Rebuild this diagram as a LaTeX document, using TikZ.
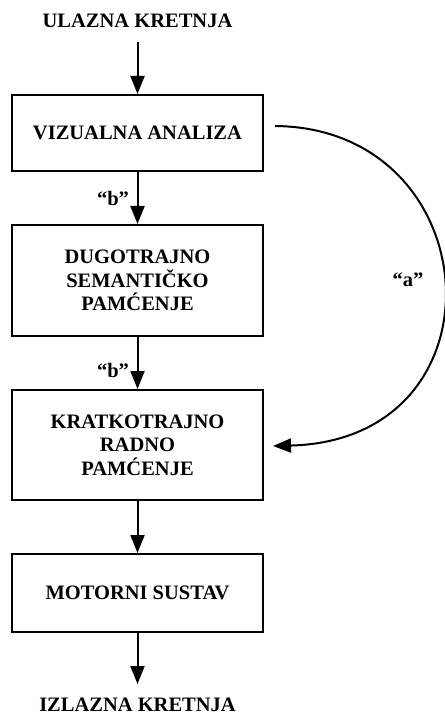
\documentclass[tikz,border=0pt]{standalone}
\usepackage{fontspec}
\setmainfont{Liberation Serif}
\usetikzlibrary{arrows.meta}
\begin{document}
\begin{tikzpicture}[x=1pt,y=-1pt,
  every node/.style={font=\bfseries\fontsize{20.5}{23.5}\selectfont, align=center, inner sep=0pt},
  box/.style={draw, line width=2pt, minimum width=251pt},
  arr/.style={line width=2pt, -{Triangle[width=14pt,length=18pt]}}]
\useasboundingbox (0,0) rectangle (444,719);
\node (in) at (137.5,21) {ULAZNA KRETNJA};
\node[box, minimum height=76pt] (b1) at (137.5,133) {VIZUALNA ANALIZA};
\node[box, minimum height=111pt] (b2) at (137.5,280.5) {DUGOTRAJNO\\SEMANTIČKO\\PAMĆENJE};
\node[box, minimum height=110pt] (b3) at (137.5,445) {KRATKOTRAJNO\\RADNO\\PAMĆENJE};
\node[box, minimum height=78pt] (b4) at (137.5,593) {MOTORNI SUSTAV};
\node (out) at (137.5,705) {IZLAZNA KRETNJA};
\node (lb1) at (113,198) {“b”};
\node (lb2) at (113,370) {“b”};
\node (la) at (408,280) {“a”};
\draw[arr] ([yshift=-21pt]in.center) -- (b1.north);
\draw[arr] (b1.south) -- (b2.north);
\draw[arr] (b2.south) -- (b3.north);
\draw[arr] (b3.south) -- (b4.north);
\draw[arr] (b4.south) -- ([yshift=21pt]out.center);
\draw[arr] ([shift={(11pt,7pt)}]b1.east) .. controls (490,128) and (510,440) .. ([shift={(9pt,-1pt)}]b3.east);
\end{tikzpicture}
\end{document}
